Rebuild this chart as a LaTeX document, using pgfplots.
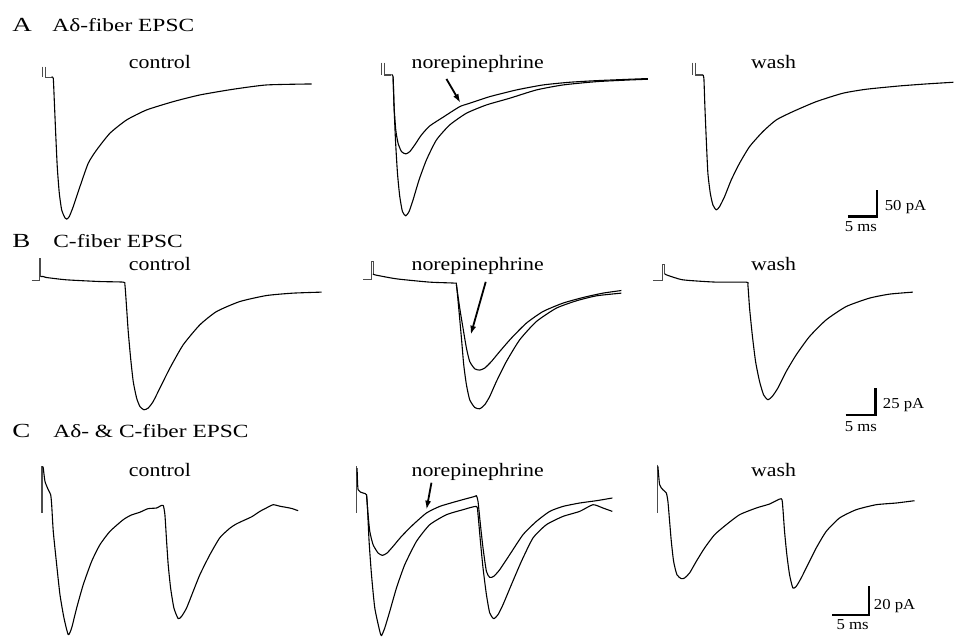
\documentclass[border=0pt]{standalone}
\usepackage{pgfplots}
\pgfplotsset{compat=1.18}
\usepackage{graphicx}
\usepackage{fontspec}
\setmainfont{Liberation Serif}
\usetikzlibrary{arrows.meta}

% page coordinates: 1 unit = 1 px of the 954x636 figure, y downwards
\pgfplotsset{
  trace/.style={black, line width=0.55bp, no markers, line join=round, smooth, tension=0.35},
  art/.style={black!70, line width=0.55bp, no markers},
  bar/.style={black, line width=1.1bp, no markers},
  arr/.style={black, line width=0.9bp, no markers, -{Latex[length=4.5bp,width=3bp]}},
}
\newcommand\letter[1]{\scalebox{1.35}[1]{\fontsize{10bp}{11bp}\selectfont #1}}
\newcommand\head[1]{\scalebox{1.26}[1]{\fontsize{9.3bp}{11bp}\selectfont #1}}
\newcommand\cond[1]{\scalebox{1.15}[1]{\fontsize{9.5bp}{10bp}\selectfont #1}}
\newcommand\scl[1]{\scalebox{1.1}[1]{\fontsize{7.6bp}{8bp}\selectfont #1}}

\begin{document}
\begin{tikzpicture}
\begin{axis}[
  scale only axis, width=477bp, height=318bp,
  xmin=0, xmax=954, ymin=0, ymax=636, y dir=reverse,
  enlargelimits=false, hide axis, clip=false,
]
\addplot[draw=none, no markers] coordinates {(0,0) (954,636)};

% ---------------- A: Adelta-fiber EPSC ----------------
\addplot[art] coordinates {(42.3,66.7) (42.3,77.3)};
\addplot[art] coordinates {(45.7,66.7) (45.7,77.3) (51.7,77.3)};
\addplot[trace] coordinates {
 (51.7,77.3) (53.3,78.3) (54.3,100) (55.7,133) (57.3,167) (59.3,193) (61.7,210)
 (65,218) (66.7,219.3) (69.3,216.7) (73.3,206.7) (80,186.7) (88.3,163.3)
 (96.7,150) (110,133.3) (126.7,120) (146.7,110) (173.3,101.7) (200,95)
 (233.3,89.3) (266.7,85) (311.7,84)};

\addplot[art] coordinates {(381.7,62.7) (381.7,75)};
\addplot[art] coordinates {(385,62.7) (385,75) (391.7,75)};
% control in NE panel
\addplot[trace] coordinates {
 (391.7,75) (393.3,76.7) (394.3,106.7) (395.7,140) (397.7,173.3) (400,196.7)
 (402.7,211.7) (406,216) (409.3,211.7) (413.3,200) (419.3,180) (426.7,160)
 (436.7,140) (450,125) (466.7,113.3) (486.7,105) (510,98.3) (536.7,90)
 (563.3,85) (596.7,81.7) (630,80) (648.3,79.3)};
% norepinephrine
\addplot[trace] coordinates {
 (393.3,76.7) (394.3,106.7) (396,130) (398.3,143.3) (401.7,151.7) (406,154)
 (410,151.7) (415,145) (421.7,135) (430,126) (443.3,117.3) (460,106.7)
 (470,103.3) (490,96.7) (516.7,90) (543.3,85) (570,82.3) (596.7,80.7)
 (630,79.3) (648.3,78.6)};
\addplot[arr] coordinates {(446.7,79) (460.7,103)};

\addplot[art] coordinates {(692.7,62.7) (692.7,75)};
\addplot[art] coordinates {(696,62.7) (696,75) (703.3,75)};
\addplot[trace] coordinates {
 (703.3,75) (704.3,78.3) (705.3,106.7) (706.7,140) (708.3,173.3) (710.7,193.3)
 (713.3,205) (716.7,210) (720,206.7) (725,196.7) (731.7,180) (740,163.3)
 (750,146.7) (763.3,131.7) (776.7,120) (793.3,111.7) (816.7,101.7)
 (843.3,93.3) (866.7,89.3) (900,86) (926.7,84) (954,82.3)};

\addplot[bar] coordinates {(848.3,216.7) (877.7,216.7) (877.7,190)};

% ---------------- B: C-fiber EPSC ----------------
\addplot[art] coordinates {(31.7,281) (39.3,281) (39.3,258.3) (40.7,258.3) (40.7,276.7)};
\addplot[trace] coordinates {
 (40.7,276.7) (43.3,276.7)
 (46.7,277.7) (66.7,280) (100,281.7) (123.3,282.3) (125,285) (126.7,308.3)
 (128.3,331.7) (130.7,358.3) (133.3,381.7) (136.7,398.3) (140,406.7)
 (144,410) (148.3,408.3) (153.3,401.7) (160,388.3) (170,368.3) (183.3,345)
 (200,325) (216.7,311.7) (240,301.7) (266.7,295.7) (293.3,293.3) (321.7,292.3)};

\addplot[art] coordinates {(363.3,280) (371.7,280) (371.7,261.7) (373.3,261.7) (373.3,274)};
\addplot[trace] coordinates {
 (373.3,274) (375,275)
 (396.7,279) (430,282.3) (455,283.3) (456.7,285) (459.3,311.7) (461.7,338.3)
 (464,365) (466.7,385) (470,400) (475,407.7) (480,409) (485,405)
 (490,396.7) (496.7,381.7) (506.7,361.7) (520,340) (536.7,321.7)
 (556.7,308.3) (576.7,301) (596.7,296) (621.7,293.3)};
\addplot[trace] coordinates {
 (456.7,285) (460,308.3) (463.3,328.3) (466.7,348.3) (470,361.7) (475,369)
 (480,370.3) (485,368.3) (491.7,361.7) (500,351.7) (511.7,338.3)
 (526.7,323.3) (543.3,311.7) (563.3,303.3) (583.3,297.7) (603.3,293.3)
 (621.7,290.7)};
\addplot[arr] coordinates {(486,282) (471,335)};

\addplot[art] coordinates {(653.3,281) (663.3,281) (663.3,265) (665,265) (665,274)};
\addplot[trace] coordinates {
 (665,274) (666.7,275)
 (683.3,280) (716.7,282.3) (746.7,282.3) (748.3,285) (750,308.3)
 (752.7,335) (756,361.7) (760,381.7) (764,395) (768.3,400) (772.7,396.7)
 (778.3,388.3) (786.7,371.7) (796.7,355) (810,336.7) (826.7,320)
 (846.7,306.7) (870,298.3) (890,294.3) (913.3,292.3)};

\addplot[bar] coordinates {(846,415) (876,415) (876,388.3)};

% ---------------- C: Adelta- & C-fiber EPSC ----------------
\addplot[art] coordinates {(42,466.7) (42,513.3)};
\addplot[trace] coordinates {
 (42.7,466.7) (43.3,468.3) (45,481.7) (48.3,490) (50.7,495) (51.7,505)
 (53.3,531.7) (56.7,565) (60,595) (64,618.3) (68.3,635) (71.7,628.3)
 (76.7,608.3) (83.3,585) (91.7,561.7) (100,545) (110,531.7) (123.3,520)
 (131,515.5) (140,512.5) (148,509) (156.7,508.3) (160,506.5) (163.3,505.7)
 (165,515) (166.7,541.7)
 (168.3,565) (170.7,588.3) (174,608.3) (178.3,619) (181.7,616.7)
 (186.7,608.3) (193.3,591.7) (200,575) (210,555) (220,538) (230,528.5)
 (236,524.5) (243.3,521) (252,517) (260,511.7) (267,508) (273.3,505)
 (280,506.5) (286.7,507.7) (292,508.8) (298.3,511)};

\addplot[art] coordinates {(356.5,466.7) (356.5,513.3)};
\addplot[trace] coordinates {
 (357.3,468.3) (358.3,490) (363.3,493.3) (366.7,495) (367.7,508.3)
 (369.3,541.7) (371.7,575) (375,608.3) (380,631.7) (381.7,636) (385,628.3)
 (390,611.7) (396.7,588.3) (405,565) (416.7,541.7) (430,525) (446.7,515)
 (463.3,510) (476.7,506.7) (478.3,515) (480.7,541.7) (483.3,568.3)
 (486.7,595) (490,613.3) (494,619) (498.3,615) (503.3,605) (511.7,585)
 (521.7,561.7) (533.3,538.3) (546.7,525) (563.3,516.7) (580,511.7)
 (593.3,505) (603.3,508.3) (612.7,511.7)};
\addplot[trace] coordinates {
 (366.7,495) (368.3,515) (370,531.7) (373.3,545) (378.3,553.3) (382.7,555.7)
 (387.3,553.3) (393.3,546.7) (401.7,536.7) (413.3,525) (426.7,513.3)
 (440,506.7) (456.7,501.7) (475,496.7) (476.7,496) (478.3,501.7)
 (480.7,525) (483.3,548.3) (486.7,571.7) (490,577.7) (494,576.7) (500,570)
 (510,555) (523.3,535) (536.7,521.7) (550,511.7) (563.3,506.7) (580,503.3)
 (596.7,501) (612.7,498.3)};
\addplot[arr] coordinates {(431.7,483) (426.7,510)};

\addplot[art] coordinates {(657.5,465) (657.5,513.3)};
\addplot[trace] coordinates {
 (658.3,466.7) (660,485) (663.3,490) (666.7,493.3) (668.3,501.7) (670,521.7)
 (671.7,541.7) (674,561.7) (677.3,575) (681.7,579) (685,578.3) (690,573.3)
 (696.7,561.7) (705,548.3) (715,535) (726.7,525) (740,515) (756.7,508.3)
 (770,504.3) (781.7,499) (783.3,508.3) (785,531.7) (787.3,555) (790,575)
 (793.3,588.3) (796.7,586.7) (801.7,578.3) (808.3,565) (816.7,548.3)
 (826.7,531.7) (840,518.3) (856.7,510) (876.7,505) (896.7,503.3) (915,501)};

\addplot[bar] coordinates {(832.7,615) (869.3,615) (869.3,586.7)};

% ---------------- text ----------------
\node[anchor=base west, inner sep=0] at (axis cs:12,31.5) {\letter{A}};
\node[anchor=base west, inner sep=0] at (axis cs:52,31.5) {\head{Aδ-fiber EPSC}};
\node[anchor=base west, inner sep=0] at (axis cs:12,248) {\letter{B}};
\node[anchor=base west, inner sep=0] at (axis cs:53,248) {\head{C-fiber EPSC}};
\node[anchor=base west, inner sep=0] at (axis cs:12,438) {\letter{C}};
\node[anchor=base west, inner sep=0] at (axis cs:53,438) {\head{Aδ- \& C-fiber EPSC}};

\node[anchor=base, inner sep=0] at (axis cs:160,68.3) {\cond{control}};
\node[anchor=base, inner sep=0] at (axis cs:478,68.3) {\cond{norepinephrine}};
\node[anchor=base, inner sep=0] at (axis cs:774,68.3) {\cond{wash}};
\node[anchor=base, inner sep=0] at (axis cs:160,271) {\cond{control}};
\node[anchor=base, inner sep=0] at (axis cs:478,271) {\cond{norepinephrine}};
\node[anchor=base, inner sep=0] at (axis cs:774,271) {\cond{wash}};
\node[anchor=base, inner sep=0] at (axis cs:160,477) {\cond{control}};
\node[anchor=base, inner sep=0] at (axis cs:478,477) {\cond{norepinephrine}};
\node[anchor=base, inner sep=0] at (axis cs:774,477) {\cond{wash}};

\node[anchor=base west, inner sep=0] at (axis cs:885,210.7) {\scl{50 pA}};
\node[anchor=base west, inner sep=0] at (axis cs:845,231.5) {\scl{5 ms}};
\node[anchor=base west, inner sep=0] at (axis cs:883,408.3) {\scl{25 pA}};
\node[anchor=base west, inner sep=0] at (axis cs:845,431.5) {\scl{5 ms}};
\node[anchor=base west, inner sep=0] at (axis cs:874,610) {\scl{20 pA}};
\node[anchor=base west, inner sep=0] at (axis cs:836.7,630) {\scl{5 ms}};
\end{axis}
\end{tikzpicture}
\end{document}
